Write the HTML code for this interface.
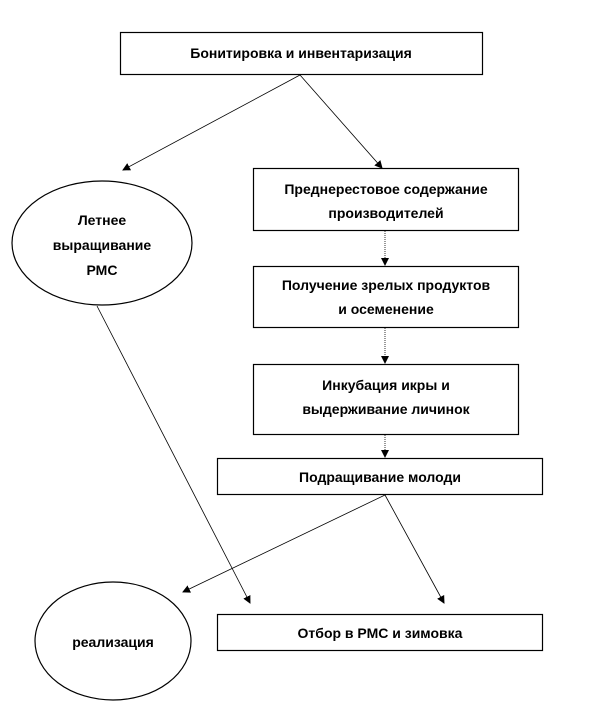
<!DOCTYPE html>
<html><head><meta charset="utf-8"><style>
html,body{margin:0;padding:0;background:#fff;}
svg{display:block}
text{font-family:"Liberation Sans",sans-serif;font-weight:bold;font-size:14px;fill:#000;text-anchor:middle;}
</style></head><body>
<svg width="612" height="725" viewBox="0 0 612 725">
<defs><marker id="a" markerWidth="8" markerHeight="8" refX="7" refY="4" orient="auto" markerUnits="userSpaceOnUse"><path d="M0,0L8,4L0,8z" fill="#000"/></marker></defs>
<g fill="#fff" stroke="#000" stroke-width="1.2">
<rect x="120.5" y="32.5" width="362" height="42"/>
<rect x="253.5" y="168.5" width="265" height="62"/>
<rect x="253.5" y="266.5" width="265" height="61"/>
<rect x="253.5" y="364.5" width="265" height="70"/>
<rect x="217.5" y="458.5" width="325" height="36"/>
<rect x="217.5" y="614.5" width="325" height="36"/>
<ellipse cx="102" cy="243" rx="90" ry="62"/>
<ellipse cx="113" cy="641" rx="78" ry="59"/>
</g>
<g stroke="#000" stroke-width="0.8" fill="none" marker-end="url(#a)">
<line x1="300" y1="75" x2="123" y2="170"/>
<line x1="300" y1="75" x2="382" y2="168"/>
<line x1="385" y1="231" x2="385" y2="265" stroke-dasharray="1,1"/>
<line x1="385" y1="328" x2="385" y2="363" stroke-dasharray="1,1"/>
<line x1="385" y1="435" x2="385" y2="457" stroke-dasharray="1,1"/>
<line x1="97" y1="306" x2="250" y2="603"/>
<line x1="385" y1="495" x2="183" y2="592"/>
<line x1="385" y1="495" x2="444" y2="603"/>
</g>
<text x="301" y="58">Бонитировка и инвентаризация</text>
<text x="386" y="194">Преднерестовое содержание</text>
<text x="386" y="218">производителей</text>
<text x="386" y="290">Получение зрелых продуктов</text>
<text x="386" y="314">и осеменение</text>
<text x="386" y="390">Инкубация икры и</text>
<text x="386" y="414">выдерживание личинок</text>
<text x="380" y="482">Подращивание молоди</text>
<text x="380" y="638">Отбор в РМС и зимовка</text>
<text x="102" y="225">Летнее</text>
<text x="102" y="250">выращивание</text>
<text x="102" y="275">РМС</text>
<text x="113" y="647">реализация</text>
</svg>
</body></html>
